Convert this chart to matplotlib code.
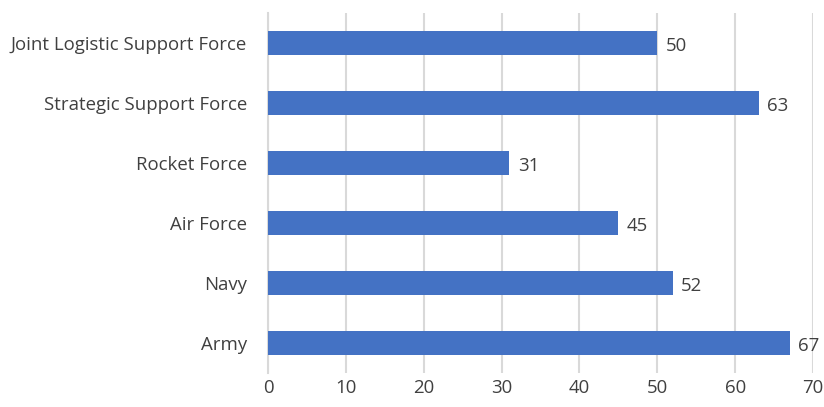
import matplotlib
matplotlib.use("Agg")
import matplotlib.pyplot as plt

categories = ["Army", "Navy", "Air Force", "Rocket Force", "Strategic Support Force", "Joint Logistic Support Force"]
values = [67, 52, 45, 31, 63, 50]
xticks = [0, 10, 20, 30, 40, 50, 60, 70]

plt.rcParams['font.family'] = ['Open Sans', 'DejaVu Sans']
fig = plt.figure(figsize=(8.24, 4.07), dpi=100)
ax = fig.add_axes([268/824, 1-373/407, (813-268)/824, 360/407])

y = list(range(len(categories)))
ax.barh(y, values, height=0.4, color='#4472C4', zorder=3)
for yi, v in zip(y, values):
    ax.annotate(str(v), (v, yi), xytext=(6, -2), textcoords='offset points',
                va='center', ha='left', fontsize=13.4, color='#404040')

ax.set_xlim(0, 70)
ax.set_ylim(-0.5, 5.5)
ax.set_xticks(xticks)
ax.set_yticks(y)
ax.set_yticklabels(categories)
ax.xaxis.grid(True, color='#D9D9D9', linewidth=1.5, zorder=0)
ax.set_axisbelow(True)
for s in ['top', 'right', 'bottom']:
    ax.spines[s].set_visible(False)
ax.spines['left'].set_color('#D9D9D9')
ax.spines['left'].set_linewidth(1.5)
ax.tick_params(axis='both', length=0, labelsize=13.4, labelcolor='#404040')
ax.tick_params(axis='y', pad=15)
ax.tick_params(axis='x', pad=4)

fig.savefig('out.png', dpi=100)
